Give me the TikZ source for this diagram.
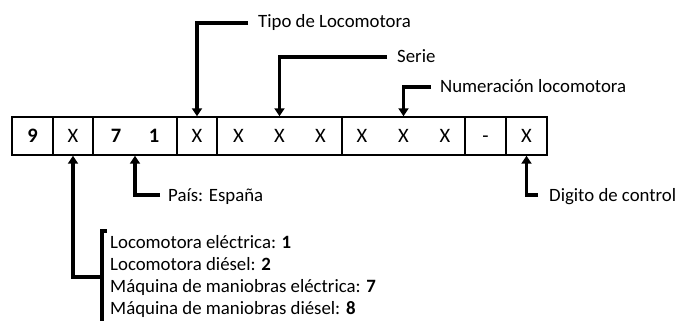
\documentclass[tikz,border=0pt]{standalone}
\usepackage{fontspec}
\setmainfont{Carlito}
\usetikzlibrary{arrows.meta}
\begin{document}
\begin{tikzpicture}[x=1pt,y=-1pt,
  cell/.style={draw, line width=1.4pt, minimum height=38pt, inner sep=0pt,
    text height=13pt, text depth=0pt, font=\fontsize{20.5}{24}\selectfont},
  lbl/.style={anchor=base west, inner sep=0pt, font=\fontsize{18.8}{22}\selectfont},
  conn/.style={line width=3.2pt, -{Triangle[width=10pt,length=8pt]}},
  brk/.style={line width=3.2pt}]
\useasboundingbox (0,0) rectangle (677,321);
% cells
\node[cell, minimum width=41pt] (c1) at (32.5,136) {\textbf{9}};
\node[cell, minimum width=40pt] (c2) at (73,136) {X};
\node[cell, minimum width=84pt] (c3) at (135,136) {\textbf{7}\hspace{27.6pt}\textbf{1}};
\node[cell, minimum width=40pt] (c4) at (197,136) {X};
\node[cell, minimum width=125pt] (c5) at (279.5,136) {X\hspace{30.4pt}X\hspace{30.4pt}X};
\node[cell, minimum width=123pt] (c6) at (403.5,136) {X\hspace{30.9pt}X\hspace{30.9pt}X};
\node[cell, minimum width=41pt] (c7) at (485.5,136) {-};
\node[cell, minimum width=41pt] (c8) at (526.5,136) {X};
% labels
\node[lbl] (tipo) at (258,28) {Tipo de Locomotora};
\node[lbl] (serie) at (397,62.5) {Serie};
\node[lbl] (num) at (440,92.5) {Numeración locomotora};
\node[lbl] (pais) at (168,201) {País: España};
\node[lbl] (dig) at (549,201) {Digito de control};
\node[lbl] (t1) at (110,248.5) {Locomotora eléctrica: \textbf{1}};
\node[lbl] (t2) at (110,270.5) {Locomotora diésel: \textbf{2}};
\node[lbl] (t3) at (110,292.5) {Máquina de maniobras eléctrica: \textbf{7}};
\node[lbl] (t4) at (110,314.5) {Máquina de maniobras diésel: \textbf{8}};
% connector ends
\coordinate (tipoL) at (248,23);
\coordinate (serieL) at (387,57);
\coordinate (numL) at (431,87);
\coordinate (paisL) at (160,195);
\coordinate (digL) at (538,195);
\coordinate (brkL) at (102,277);
% connectors
\draw[conn] (tipoL) -| (c4.north);
\draw[conn] (serieL) -| (c5.north);
\draw[conn] (numL) -| (c6.north);
\draw[conn] (paisL) -| (c3.south);
\draw[conn] (digL) -| (c8.south);
\draw[conn] (brkL) -| (c2.south);
% bracket
\draw[brk] (107,231) -- (102,231) -- (102,322);
\end{tikzpicture}
\end{document}
